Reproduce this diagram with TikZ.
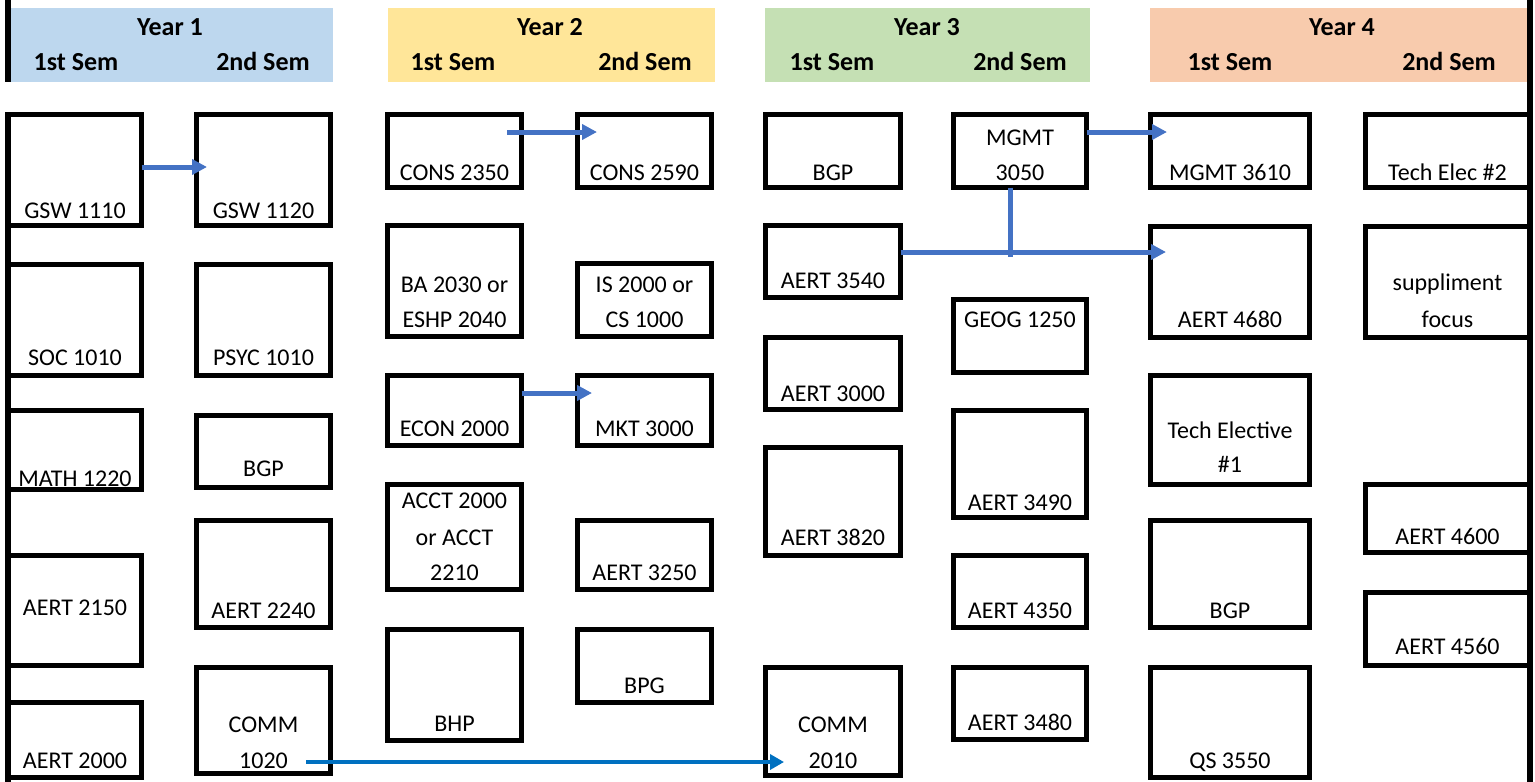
\documentclass[tikz,border=0pt]{standalone}
\usepackage{fontspec}
\setmainfont{Carlito}
\usetikzlibrary{arrows.meta}
\definecolor{yone}{HTML}{BDD7EE}
\definecolor{ytwo}{HTML}{FFE699}
\definecolor{ythree}{HTML}{C5E0B4}
\definecolor{yfour}{HTML}{F8CBAD}
\definecolor{arrblue}{HTML}{4472C4}
\definecolor{commblue}{HTML}{0070C0}
\newcommand\mkbox[5]{\node[cbox, minimum width={#4pt-#2pt-5pt}, minimum height={#5pt-#3pt-5pt}] (#1) at ({(#2+#4)/2},{(#3+#5)/2}) {};}
\newcommand\lbl[3]{\node[lbl] at (#1.center |- 0,#2) {#3};}
\tikzset{
  cbox/.style={draw=black, line width=5pt, rectangle, inner sep=0pt, outer sep=0pt, fill=none},
  lbl/.style={anchor=base, inner sep=0pt, font=\fontsize{24}{30}\selectfont, text=black},
  hdr/.style={anchor=base, inner sep=0pt, font=\fontsize{26}{30}\selectfont\bfseries, text=black},
  arr/.style={draw=arrblue, line width=5pt, -{Triangle[length=15pt,width=15pt]}},
  carr/.style={draw=commblue, line width=4.5pt, -{Triangle[length=14pt,width=15pt]}},
  edgeline/.style={draw=black, line width=6pt},
}
\begin{document}
\begin{tikzpicture}[x=1pt,y=-1pt]
\useasboundingbox (0,0) rectangle (1535,782);
% header bands
\fill[yone] (11,8) rectangle (333,82);
\fill[ytwo] (388,8) rectangle (715,82);
\fill[ythree] (765,8) rectangle (1090,82);
\fill[yfour] (1150,8) rectangle (1527,82);
\node[hdr] (y1) at (170,35) {Year 1};
\node[hdr] (y1a) at (76,70) {1st Sem};
\node[hdr] (y1b) at (263,70) {2nd Sem};
\node[hdr] (y2) at (550,35) {Year 2};
\node[hdr] (y2a) at (453,70) {1st Sem};
\node[hdr] (y2b) at (645,70) {2nd Sem};
\node[hdr] (y3) at (927,35) {Year 3};
\node[hdr] (y3a) at (832,70) {1st Sem};
\node[hdr] (y3b) at (1020,70) {2nd Sem};
\node[hdr] (y4) at (1342,35) {Year 4};
\node[hdr] (y4a) at (1230,70) {1st Sem};
\node[hdr] (y4b) at (1449,70) {2nd Sem};
% side lines
\draw[edgeline] (8,0) -- (8,82);
\draw[edgeline] (8,112) -- (8,782);
\draw[edgeline] (1529.5,0) -- (1529.5,782);
% column 1
\mkbox{gswA}{6}{112}{144}{228}
\mkbox{soc}{6}{262}{144}{378}
\mkbox{math}{6}{408}{144}{492}
\mkbox{aertA}{6}{553}{144}{668}
\mkbox{aertB}{6}{700}{144}{780}
% column 2
\mkbox{gswB}{194}{112}{333}{228}
\mkbox{psyc}{194}{262}{333}{378}
\mkbox{bgpA}{194}{413}{333}{490}
\mkbox{aertC}{194}{518}{333}{630}
\mkbox{commA}{194}{665}{333}{776}
% column 3
\mkbox{consA}{385}{112}{524}{190}
\mkbox{ba}{385}{223}{524}{339}
\mkbox{econ}{385}{373}{524}{448}
\mkbox{acct}{385}{482}{524}{592}
\mkbox{bhp}{385}{627}{524}{743}
% column 4
\mkbox{consB}{575}{112}{714}{190}
\mkbox{iscs}{575}{261}{714}{339}
\mkbox{mkt}{575}{373}{714}{448}
\mkbox{aertD}{575}{518}{714}{592}
\mkbox{bpg}{575}{627}{714}{705}
% column 5
\mkbox{bgpB}{763}{112}{903}{190}
\mkbox{aTFF}{763}{223}{903}{300}
\mkbox{aTZ}{763}{335}{903}{412}
\mkbox{aTEI}{763}{445}{903}{558}
\mkbox{commB}{763}{665}{903}{778}
% column 6
\mkbox{mgmtA}{951}{112}{1089}{190}
\mkbox{geog}{951}{297}{1089}{375}
\mkbox{aTNZ}{951}{408}{1089}{520}
\mkbox{aFTF}{951}{553}{1089}{630}
\mkbox{aTFE}{951}{665}{1089}{742}
% column 7
\mkbox{mgmtB}{1148}{112}{1312}{190}
\mkbox{aFSE}{1148}{224}{1312}{340}
\mkbox{techA}{1148}{373}{1312}{487}
\mkbox{bgpC}{1148}{518}{1312}{630}
\mkbox{qs}{1148}{665}{1312}{780}
% column 8
\mkbox{techB}{1363}{112}{1532}{190}
\mkbox{supp}{1363}{224}{1532}{340}
\mkbox{aFSZ}{1363}{482}{1532}{555}
\mkbox{aFFS}{1363}{590}{1532}{668}
% labels
\lbl{gswA}{218}{GSW 1110}
\lbl{soc}{365}{SOC 1010}
\lbl{math}{486}{MATH 1220}
\lbl{aertA}{615}{AERT 2150}
\lbl{aertB}{768}{AERT 2000}
\lbl{gswB}{218}{GSW 1120}
\lbl{psyc}{365}{PSYC 1010}
\lbl{bgpA}{476}{BGP}
\lbl{aertC}{618}{AERT 2240}
\lbl{commA}{732}{COMM}
\lbl{commA}{768}{1020}
\lbl{consA}{180}{CONS 2350}
\lbl{ba}{292}{BA 2030 or}
\lbl{ba}{327}{ESHP 2040}
\lbl{econ}{436}{ECON 2000}
\lbl{acct}{508}{ACCT 2000}
\lbl{acct}{545}{or ACCT}
\lbl{acct}{580}{2210}
\lbl{bhp}{731}{BHP}
\lbl{consB}{180}{CONS 2590}
\lbl{iscs}{292}{IS 2000 or}
\lbl{iscs}{327}{CS 1000}
\lbl{mkt}{436}{MKT 3000}
\lbl{aertD}{580}{AERT 3250}
\lbl{bpg}{693}{BPG}
\lbl{bgpB}{180}{BGP}
\lbl{aTFF}{288}{AERT 3540}
\lbl{aTZ}{401}{AERT 3000}
\lbl{aTEI}{545}{AERT 3820}
\lbl{commB}{732}{COMM}
\lbl{commB}{768}{2010}
\lbl{mgmtA}{145}{MGMT}
\lbl{mgmtA}{180}{3050}
\lbl{geog}{327}{GEOG 1250}
\lbl{aTNZ}{510}{AERT 3490}
\lbl{aFTF}{618}{AERT 4350}
\lbl{aTFE}{730}{AERT 3480}
\lbl{mgmtB}{180}{MGMT 3610}
\lbl{aFSE}{327}{AERT 4680}
\lbl{techA}{438}{Tech Elective}
\lbl{techA}{472}{\#1}
\lbl{bgpC}{618}{BGP}
\lbl{qs}{768}{QS 3550}
\lbl{techB}{180}{Tech Elec \#2}
\lbl{supp}{290}{suppliment}
\lbl{supp}{327}{focus}
\lbl{aFSZ}{544}{AERT 4600}
\lbl{aFFS}{654}{AERT 4560}
% connectors
\draw[arr, shorten >=-10.5pt] (gswA.east |- 0,167) -- (gswB.west |- 0,167);
\draw[arr, shorten <=-14.5pt, shorten >=-19.5pt] (consA.east |- 0,132) -- (consB.west |- 0,132);
\draw[arr, shorten >=-14.5pt] (econ.east |- 0,393) -- (mkt.west |- 0,393);
\draw[arr, shorten >=-16.5pt] (mgmtA.east |- 0,132) -- (mgmtB.west |- 0,132);
\draw[arr, shorten >=-15.5pt] (aTFF.east |- 0,252) -- (aFSE.west |- 0,252);
\coordinate (join) at (1010,257);
\draw[draw=arrblue, line width=5pt] (mgmtA.south -| join) -- (join);
\draw[carr, shorten <=-24.5pt, shorten >=-18.5pt] (commA.east |- 0,762) -- (commB.west |- 0,762);
\end{tikzpicture}
\end{document}
